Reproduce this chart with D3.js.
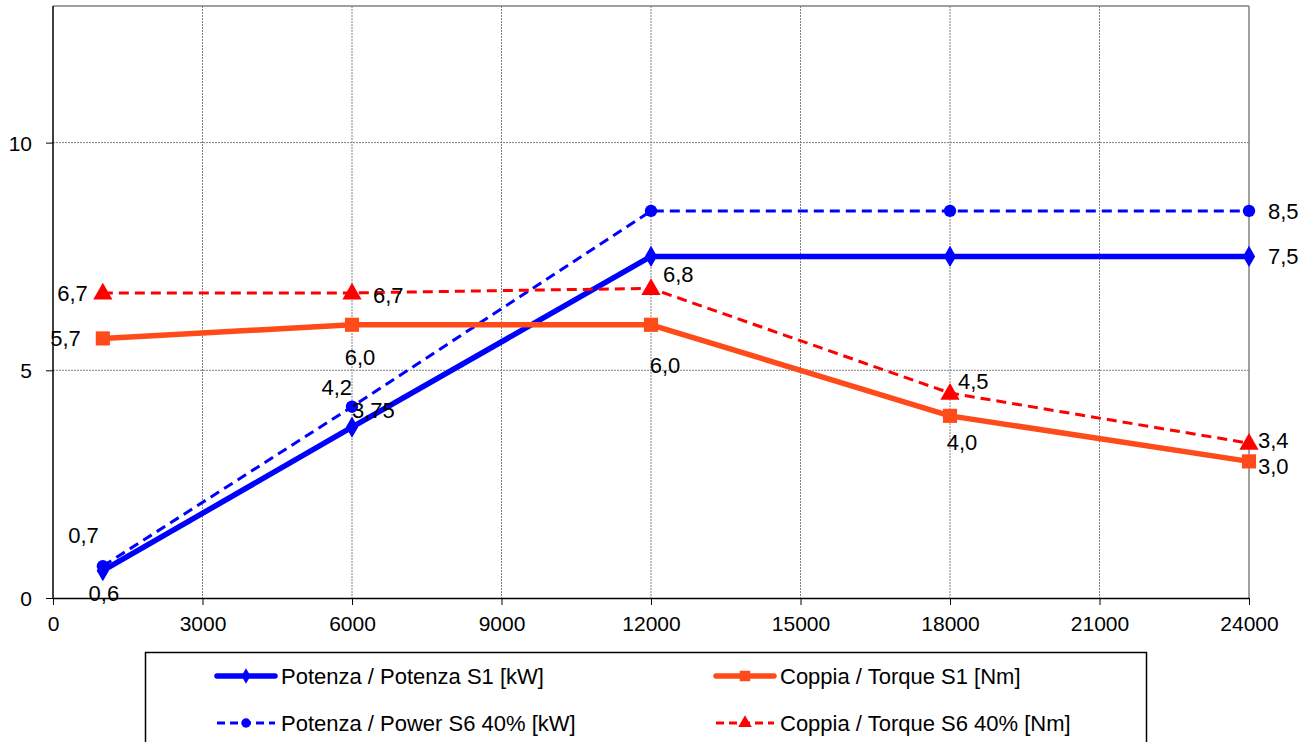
<!DOCTYPE html>
<html><head><meta charset="utf-8">
<script src="https://cdn.jsdelivr.net/npm/d3@7"></script>
<style>body{margin:0;background:#fff}svg{display:block}text{font-family:"Liberation Sans",Arial,sans-serif}</style>
</head><body>
<script>
// ---- data ----
const rpm = [1000, 6000, 12000, 18000, 24000];
const potenzaS1 = [0.6, 3.75, 7.5, 7.5, 7.5];
const potenzaS6 = [0.7, 4.2, 8.5, 8.5, 8.5];
const coppiaS1 = [5.7, 6.0, 6.0, 4.0, 3.0];
const coppiaS6 = [6.7, 6.7, 6.8, 4.5, 3.4];
const xTicks = [0, 3000, 6000, 9000, 12000, 15000, 18000, 21000, 24000];
const yTicks = [0, 5, 10];
const seriesNames = ["Potenza / Potenza S1 [kW]", "Potenza / Power S6 40% [kW]", "Coppia / Torque S1 [Nm]", "Coppia / Torque S6 40% [Nm]"];
const labelShown = [
  [true, true, false, false, true],
  [true, true, false, false, true],
  [true, true, true, true, true],
  [true, true, true, true, true]
];

// label offsets relative to each point (style only): [dx, dy, anchor]
const labelOffsets = [
  [[1, 30, "middle"], [0, -9, "start"], null, null, [19, 8, "start"]],
  [[-4, -23, "end"], [0, -12, "end"], null, null, [19, 8, "start"]],
  [[-22, 8, "end"], [8, 40, "middle"], [14, 48, "middle"], [12, 34, "middle"], [9, 13, "start"]],
  [[-15, 8, "end"], [21, 10, "start"], [12, -6, "start"], [8, -4, "start"], [9, 5, "start"]]
];

const W = 1316, H = 742;
const m = {left: 53, top: 6, right: 1249, bottom: 598};
const svg = d3.select("body").append("svg").attr("width", W).attr("height", H);

const x = d3.scaleLinear().domain([0, 24000]).range([m.left, m.right]);
const y = d3.scaleLinear().domain([0, 13]).range([m.bottom, m.top]);

// grid
svg.append("g").selectAll("line").data(xTicks.filter(d => d > 0 && d < 24000)).join("line")
  .attr("x1", d => x(d)).attr("x2", d => x(d)).attr("y1", m.top).attr("y2", m.bottom)
  .attr("stroke", "#808080").attr("stroke-width", 1).attr("stroke-dasharray", "2,1");
svg.append("g").selectAll("line").data(yTicks.filter(d => d > 0)).join("line")
  .attr("x1", m.left).attr("x2", m.right).attr("y1", d => y(d)).attr("y2", d => y(d))
  .attr("stroke", "#808080").attr("stroke-width", 1).attr("stroke-dasharray", "2,1");
// top & right border
svg.append("line").attr("x1", m.left).attr("x2", m.right).attr("y1", m.top).attr("y2", m.top).attr("stroke", "#808080").attr("stroke-width", 1.5);
svg.append("line").attr("x1", m.right).attr("x2", m.right).attr("y1", m.top).attr("y2", m.bottom).attr("stroke", "#808080").attr("stroke-width", 1.5);

// axes
const xAxis = svg.append("g").attr("transform", `translate(0,${m.bottom})`)
  .call(d3.axisBottom(x).tickValues(xTicks).tickSize(7).tickSizeOuter(0).tickFormat(d3.format("d")));
const yAxis = svg.append("g").attr("transform", `translate(${m.left},0)`)
  .call(d3.axisLeft(y).tickValues(yTicks).tickSize(7).tickSizeOuter(0).tickFormat(d3.format("d")));
[xAxis, yAxis].forEach(a => {
  a.select(".domain").attr("stroke", "#000").attr("stroke-width", 1.5);
  a.selectAll(".tick line").attr("stroke", "#000");
  a.selectAll(".tick text").attr("font-size", 21).attr("fill", "#000").style("font-family", '"Liberation Sans",Arial,sans-serif');
});
xAxis.selectAll(".tick text").attr("y", 18).attr("dy", "0.71em");
yAxis.selectAll(".tick text").attr("x", -21).attr("dy", "0.36em");
yAxis.select(".domain").attr("d", `M0,${m.bottom}V${m.top}`);

const fmt = v => (Number.isInteger(v) ? v.toFixed(1) : String(v)).replace(".", ",");

const series = [
  {vals: potenzaS1, color: "#0000FF", width: 5.5, dash: null, marker: "diamond"},
  {vals: potenzaS6, color: "#0000FF", width: 3, dash: "10,6", marker: "circle"},
  {vals: coppiaS1, color: "#FF4A1A", width: 5.5, dash: null, marker: "square"},
  {vals: coppiaS6, color: "#FF0000", width: 3, dash: "10,6", marker: "triangle"}
];
const symSize = {diamond: 130, circle: 120, square: 200, triangle: 160};
const symType = {diamond: d3.symbolDiamond, circle: d3.symbolCircle, square: d3.symbolSquare, triangle: d3.symbolTriangle};

const line = d3.line().x(d => x(d[0])).y(d => y(d[1]));
series.forEach(s => {
  const pts = rpm.map((r, i) => [r, s.vals[i]]);
  svg.append("path").attr("d", line(pts)).attr("fill", "none").attr("stroke", s.color)
    .attr("stroke-width", s.width).attr("stroke-dasharray", s.dash).attr("stroke-linejoin", "round");
});
series.forEach(s => {
  const pts = rpm.map((r, i) => [r, s.vals[i]]);
  svg.append("g").selectAll("path").data(pts).join("path")
    .attr("transform", d => `translate(${x(d[0])},${y(d[1]) + (s.marker === "triangle" ? 1 : 0)})`)
    .attr("d", d3.symbol().type(symType[s.marker]).size(symSize[s.marker]))
    .attr("fill", s.color);
});

// data labels
series.forEach((s, si) => {
  rpm.forEach((r, i) => {
    if (!labelShown[si][i]) return;
    const [dx, dy, a] = labelOffsets[si][i];
    svg.append("text").attr("x", x(r) + dx).attr("y", y(s.vals[i]) + dy)
      .attr("text-anchor", a).attr("font-size", 22).attr("fill", "#000").text(fmt(s.vals[i]));
  });
});

// legend
const lg = svg.append("g");
lg.append("rect").attr("x", 145.5).attr("y", 652.5).attr("width", 1001).attr("height", 120)
  .attr("fill", "#fff").attr("stroke", "#000").attr("stroke-width", 1.5);
const legPos = [[217, 676], [217, 723], [716, 676], [716, 723]];
const legSym = {diamond: 70, circle: 70, square: 110, triangle: 80};
series.forEach((s, i) => {
  const [lx, ly] = legPos[i];
  lg.append("line").attr("x1", lx).attr("x2", lx + 58).attr("y1", ly).attr("y2", ly)
    .attr("stroke", s.color).attr("stroke-width", s.width).attr("stroke-dasharray", s.dash ? "8,5" : null)
    .attr("stroke-linecap", s.dash ? "butt" : "round");
  lg.append("path").attr("transform", `translate(${lx + 29},${ly})`)
    .attr("d", d3.symbol().type(symType[s.marker]).size(legSym[s.marker])).attr("fill", s.color);
  lg.append("text").attr("x", lx + 64).attr("y", ly + 8).attr("font-size", 22).attr("fill", "#000").text(seriesNames[i]);
});
</script>
</body></html>
